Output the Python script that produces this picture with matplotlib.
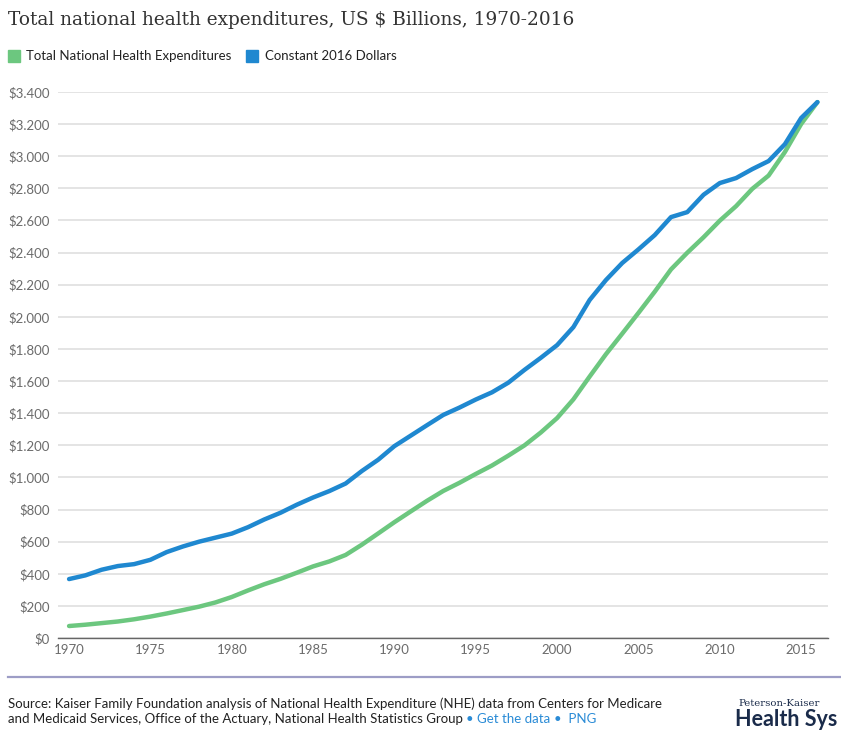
import matplotlib
matplotlib.use("Agg")
import matplotlib.pyplot as plt
from matplotlib.ticker import FuncFormatter, MultipleLocator
from matplotlib.patches import Rectangle
from matplotlib.lines import Line2D

# Total national health expenditures, billions of US dollars, 1970-2016
years = list(range(1970, 2017))

nhe_nominal = [74.6, 82.7, 92.7, 102.8, 116.5, 133.3, 152.7, 173.9, 195.3, 221.5,
               255.3, 296.2, 334.7, 368.5, 406.5, 445.9, 476.9, 517.1, 581.2, 651.0,
               721.4, 788.1, 854.1, 915.6, 966.5, 1021.6, 1074.4, 1135.5, 1200.0, 1280.0,
               1369.7, 1486.1, 1628.3, 1767.2, 1895.0, 2024.5, 2156.5, 2295.5, 2399.1, 2495.4,
               2598.8, 2689.3, 2797.3, 2879.9, 3026.2, 3200.8, 3337.2]

nhe_constant_2016 = [367, 390, 425, 448, 460, 487, 535, 570, 600, 625,
                     650, 690, 738, 780, 830, 875, 915, 962, 1040, 1110,
                     1195, 1260, 1325, 1389, 1435, 1485, 1530, 1590, 1670, 1745,
                     1824, 1936, 2105, 2229, 2335, 2420, 2509, 2621, 2652, 2760,
                     2833, 2864, 2920, 2970, 3075, 3238, 3337]

series_names = ["Total National Health Expenditures", "Constant 2016 Dollars"]
green = "#6cc77f"
blue = "#1f88d0"

sans = ["Lato", "DejaVu Sans"]
plt.rcParams['font.family'] = sans

W, H = 841, 731
fig = plt.figure(figsize=(W / 100, H / 100), dpi=100)
ax = fig.add_axes([58 / W, 1 - 638 / H, (828 - 58) / W, (638 - 92) / H])

ax.plot(years, nhe_nominal, color=green, lw=3.2, solid_capstyle='round', zorder=3)
ax.plot(years, nhe_constant_2016, color=blue, lw=3.2, solid_capstyle='round', zorder=4)

ax.set_xlim(1969.32, 2016.65)
ax.set_ylim(0, 3400)
ax.yaxis.set_major_locator(MultipleLocator(200))
ax.xaxis.set_major_locator(MultipleLocator(5))

def dollars(v, pos):
    v = int(round(v))
    if v >= 1000:
        return "${}.{:03d}".format(v // 1000, v % 1000)
    return "${}".format(v)

ax.yaxis.set_major_formatter(FuncFormatter(dollars))
ax.grid(axis='y', color='#e4e4e4', lw=1.4)
ax.set_axisbelow(True)
for s in ['top', 'right', 'left']:
    ax.spines[s].set_visible(False)
ax.spines['bottom'].set_color('#666666')
ax.spines['bottom'].set_linewidth(1.0)
ax.tick_params(axis='y', length=0, pad=6, labelsize=9.5, labelcolor='#6b6b6b')
ax.tick_params(axis='x', length=0, pad=4, labelsize=9.5, labelcolor='#6b6b6b')

# title and legend
fig.text(8 / W, 1 - 20 / H, "Total national health expenditures, US $ Billions, 1970-2016",
         family=["DejaVu Serif"], fontsize=13.3, color='#333333', va='center', ha='left')

fig.patches.append(Rectangle((8 / W, 1 - 62 / H), 12 / W, 12 / H, transform=fig.transFigure,
                             color=green, figure=fig))
fig.text(26 / W, 1 - 56 / H, series_names[0], fontsize=9.5, color='#222222', va='center')
fig.patches.append(Rectangle((246 / W, 1 - 62 / H), 12 / W, 12 / H, transform=fig.transFigure,
                             color=blue, figure=fig))
fig.text(265 / W, 1 - 56 / H, series_names[1], fontsize=9.5, color='#222222', va='center')

# footer
fig.lines.append(Line2D([8 / W, 1], [1 - 677 / H, 1 - 677 / H], transform=fig.transFigure,
                        color='#9d9dc6', lw=1.6, figure=fig))
fig.text(8 / W, 1 - 704 / H,
         "Source: Kaiser Family Foundation analysis of National Health Expenditure (NHE) data from Centers for Medicare",
         fontsize=9.5, color='#222222', va='center')
line2 = fig.text(8 / W, 1 - 719 / H,
                 "and Medicaid Services, Office of the Actuary, National Health Statistics Group ",
                 fontsize=9.5, color='#222222', va='center')
fig.canvas.draw()
r = fig.canvas.get_renderer()
x1 = line2.get_window_extent(r).x1
t2 = fig.text(x1 / W, 1 - 719 / H, "\u2022 Get the data ", fontsize=9.5, color='#2a8bd6', va='center')
x2 = t2.get_window_extent(r).x1
fig.text(x2 / W, 1 - 719 / H, "\u2022  PNG", fontsize=9.5, color='#2a8bd6', va='center')

fig.text(738 / W, 1 - 704 / H, "Peterson-Kaiser", family=["DejaVu Serif"], fontsize=7.3,
         color='#1a2b4a', va='center')
fig.text(735 / W, 1 - 720 / H, "Health Sys", fontsize=15.5, fontweight='bold',
         color='#1a2b4a', va='center')

fig.savefig("out.png", dpi=100)
